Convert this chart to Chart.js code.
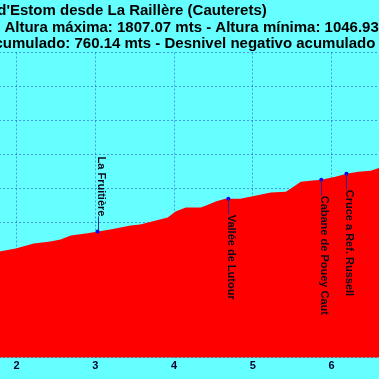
<!DOCTYPE html>
<html>
<head>
<meta charset="utf-8">
<script src="https://cdn.jsdelivr.net/npm/chart.js@4.4.1/dist/chart.umd.min.js"></script>
<style>
  html, body { margin: 0; padding: 0; background: #66ffff; overflow: hidden; }
  #wrap { position: relative; width: 379px; height: 379px; overflow: hidden; }
  /* the picture is a crop of a wider profile, so the canvas runs past the window */
  #profile { position: absolute; left: -192px; top: 0; }
</style>
</head>
<body>
<div id="wrap"><canvas id="profile" width="628" height="379"></canvas></div>
<script>
// Profile data (km / metres)
const distanceKm = [0, 0.8, 1.4, 1.80, 1.99, 2.22, 2.43, 2.56, 2.69, 2.88, 3.04, 3.19, 3.32, 3.45, 3.57,
  3.77, 3.92, 4.02, 4.15, 4.34, 4.40, 4.53, 4.65, 4.84, 5.03, 5.23, 5.42, 5.48, 5.61, 5.73, 5.87,
  6.05, 6.19, 6.34, 6.50, 6.61, 6.85, 7.05, 7.20];
const elevation = [1046.93, 1130, 1190, 1228, 1245, 1274, 1286, 1298, 1321, 1333, 1345, 1357, 1368, 1380, 1386,
  1409, 1427, 1462, 1486, 1486, 1497, 1521, 1538, 1538, 1556, 1574, 1579, 1597, 1638, 1644, 1650,
  1667, 1685, 1697, 1703, 1720, 1745, 1780, 1807.07];

// Waypoints along the route
const waypointNames = ['La Fruitière', 'Vallée de Lutour', 'Cabane de Pouey Caut', 'Cruce a Ref. Russell'];
const waypointKm = [3.03, 4.69, 5.87, 6.19];
const waypointElev = [1345, 1538, 1650, 1685];

const titleLines = [
  "Lac d'Estom desde La Raillère (Cauterets)",
  'Distancia total: 7.20 km - Altura máxima: 1807.07 mts - Altura mínima: 1046.93 mts',
  'Desnivel positivo acumulado: 760.14 mts - Desnivel negativo acumulado'
];

// Axis ranges
const kmMin = 0;
const kmMax = 7.2;
const elevMin = 600;
const elevMax = 2400;
const elevStep = 200;

const FONT = '"Liberation Sans", Arial, sans-serif';
Chart.defaults.font.family = FONT;

// Rotated labels for the waypoints, with a small leader line
const waypointLabels = {
  id: 'waypointLabels',
  afterDraw(chart) {
    const meta = chart.getDatasetMeta(0);
    const ctx = chart.ctx;
    ctx.save();
    ctx.font = 'bold 11px ' + FONT;
    ctx.fillStyle = '#0a0a1a';
    ctx.strokeStyle = '#2a2a9a';
    ctx.lineWidth = 1;
    meta.data.forEach((pt, i) => {
      const above = i === 0;
      const y0 = above ? pt.y - 15 : pt.y + 16;
      const x = Math.round(pt.x) + 0.5;
      ctx.beginPath();
      ctx.moveTo(x, pt.y);
      ctx.lineTo(x, y0);
      ctx.stroke();

      ctx.save();
      ctx.translate(pt.x + 3, y0);
      ctx.rotate(Math.PI / 2);
      ctx.textAlign = above ? 'right' : 'left';
      ctx.textBaseline = 'middle';
      ctx.fillText(waypointNames[i], 0, 0);
      ctx.restore();
    });
    ctx.restore();
  }
};

const gridStyle = {
  color: 'rgba(0, 0, 180, 0.38)',
  lineWidth: 1,
  drawTicks: false
};

new Chart(document.getElementById('profile'), {
  type: 'line',
  data: {
    datasets: [
      {
        label: 'Puntos',
        data: waypointKm.map((k, i) => ({ x: k, y: waypointElev[i] })),
        showLine: false,
        pointRadius: 2,
        pointBackgroundColor: '#0000ff',
        pointBorderColor: '#0000ff',
        pointBorderWidth: 0,
        order: 0
      },
      {
        label: 'Altura',
        data: distanceKm.map((k, i) => ({ x: k, y: elevation[i] })),
        backgroundColor: '#ff0000',
        borderWidth: 0,
        pointRadius: 0,
        fill: 'start',
        tension: 0,
        order: 1
      }
    ]
  },
  options: {
    responsive: false,
    animation: false,
    layout: {
      padding: { left: 0, right: 10, top: 0, bottom: 4 }
    },
    plugins: {
      legend: { display: false },
      tooltip: { enabled: false },
      title: {
        display: true,
        text: titleLines,
        color: '#000',
        font: { size: 15, weight: 'bold', lineHeight: 1.1 },
        padding: { top: 3, bottom: 0 }
      }
    },
    scales: {
      x: {
        type: 'linear',
        min: kmMin,
        max: kmMax,
        z: 1,
        grid: gridStyle,
        border: { display: false, dash: [2, 2] },
        ticks: {
          stepSize: 1,
          includeBounds: false,
          color: '#000033',
          padding: 2,
          font: { size: 11, weight: 'bold' }
        }
      },
      y: {
        min: elevMin,
        max: elevMax,
        z: 1,
        grid: gridStyle,
        border: { display: false, dash: [2, 2] },
        ticks: {
          stepSize: elevStep,
          color: '#000033',
          font: { size: 11, weight: 'bold' }
        },
        afterFit(scale) {
          scale.width = 51;
        }
      }
    }
  },
  plugins: [waypointLabels]
});
</script>
</body>
</html>
